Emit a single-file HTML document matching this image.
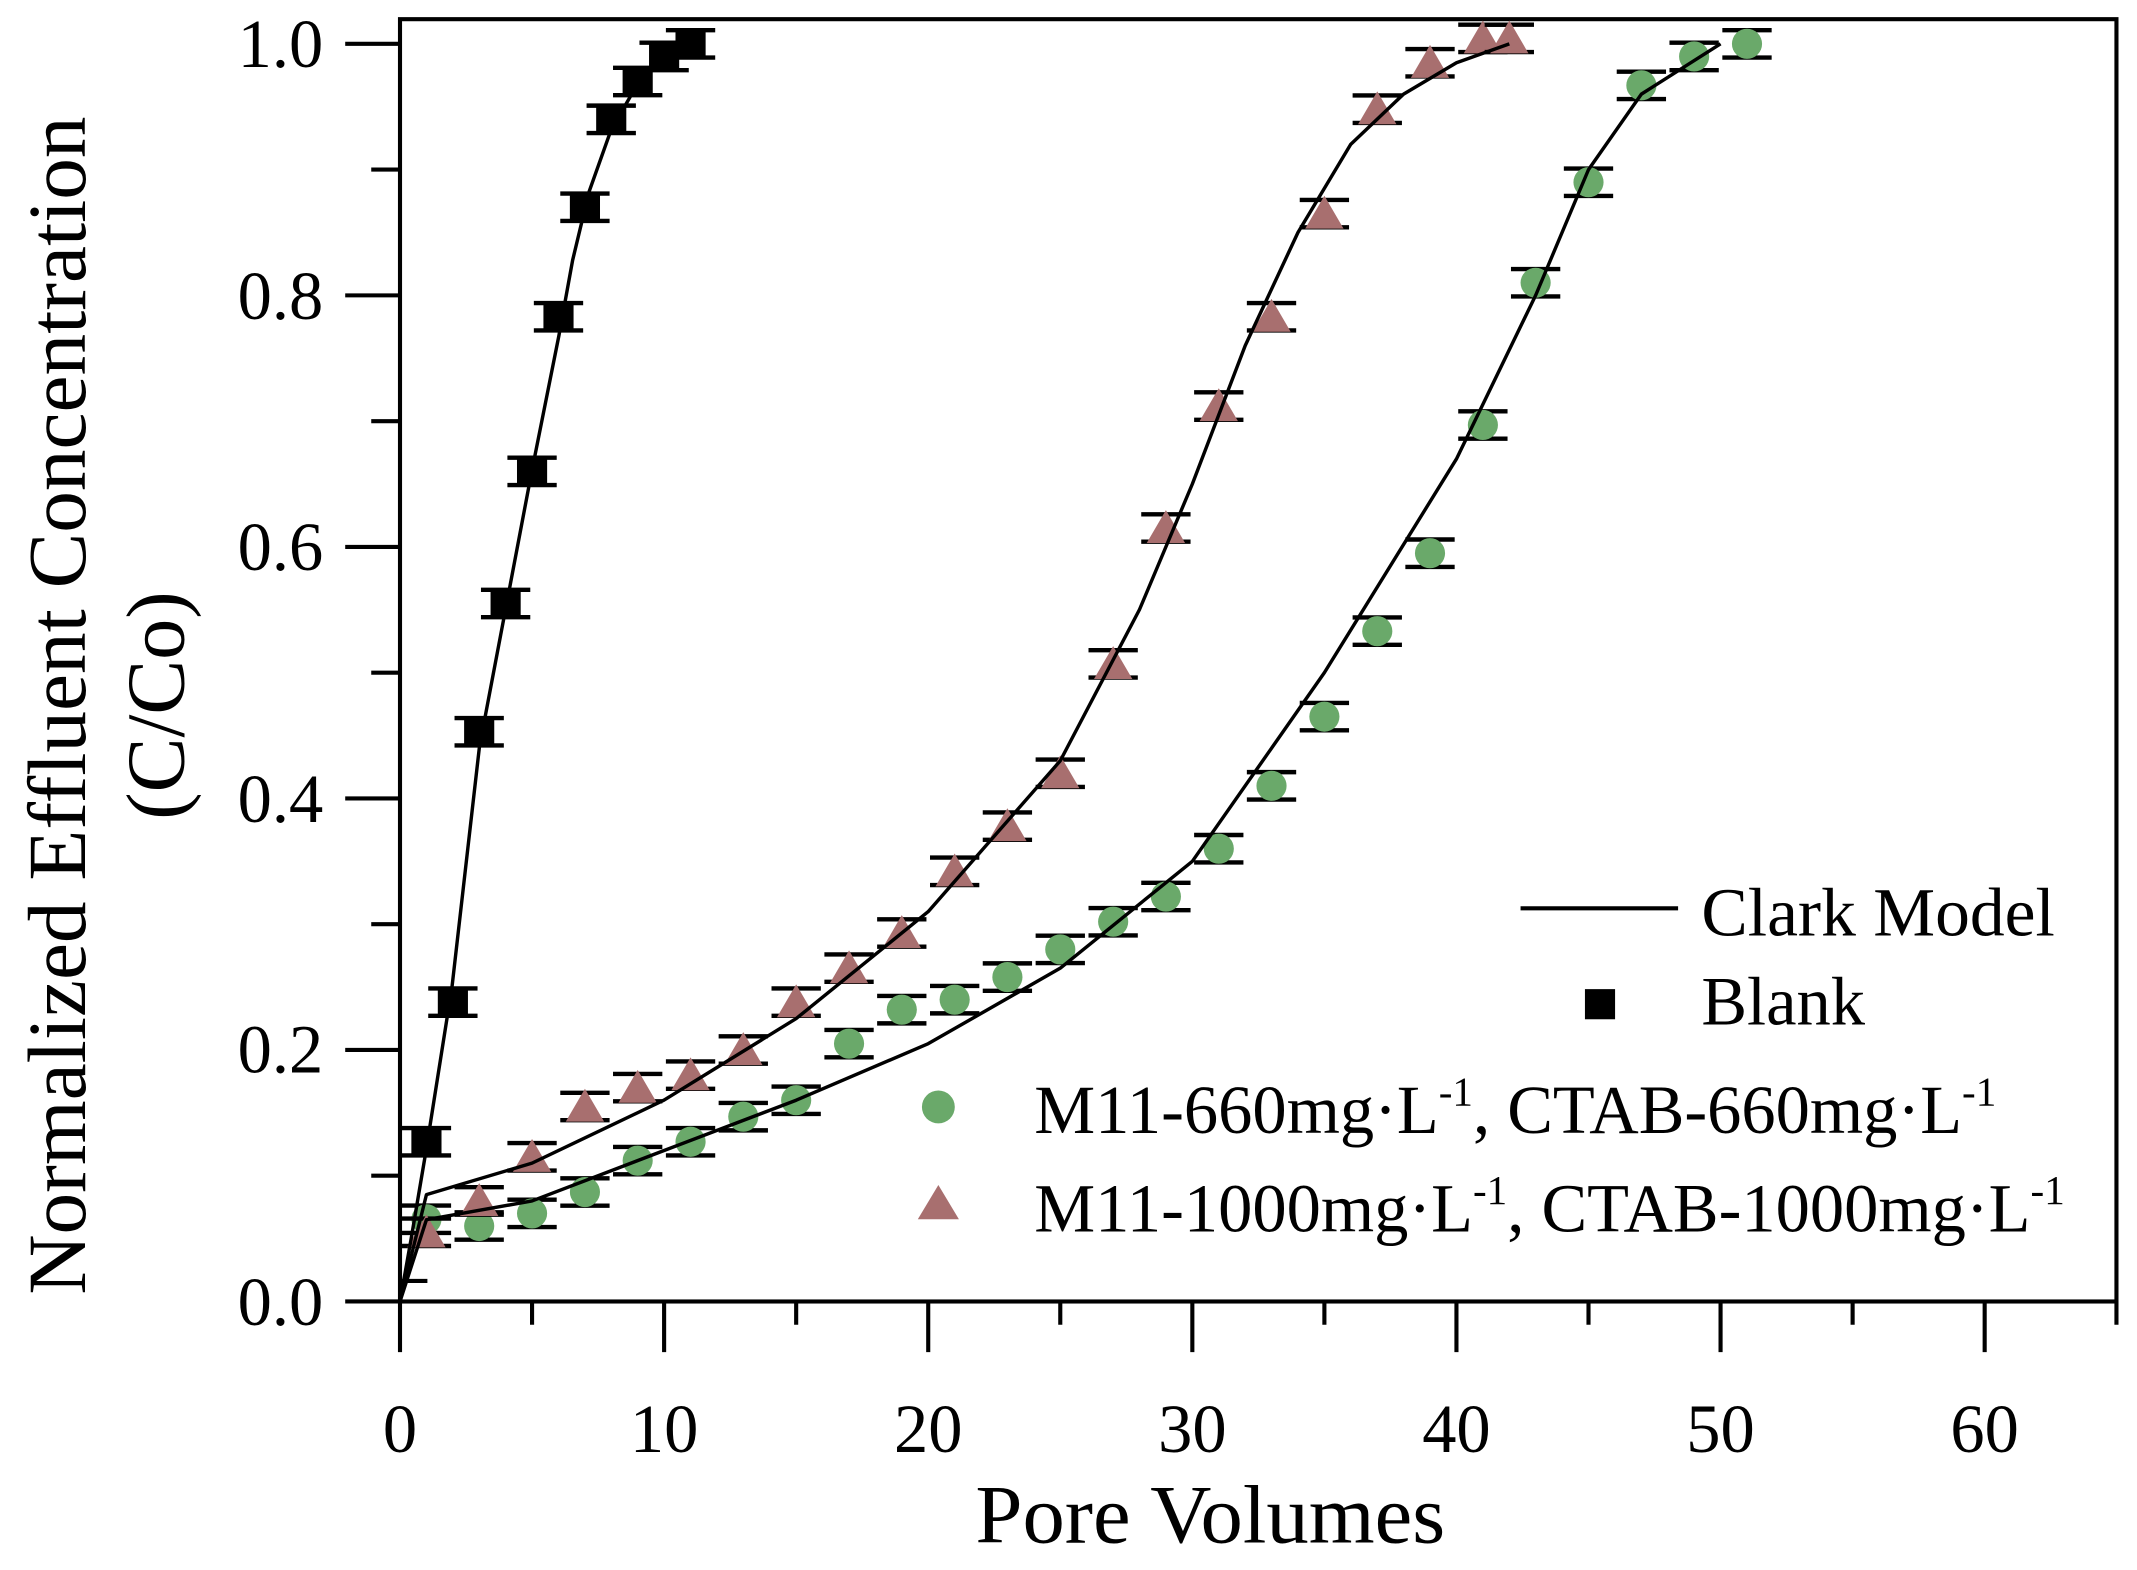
<!DOCTYPE html>
<html><head><meta charset="utf-8"><style>html,body{margin:0;padding:0;background:#fff}svg{display:block}</style></head>
<body>
<svg width="2137" height="1570" viewBox="0 0 1560 1146" preserveAspectRatio="none" xmlns="http://www.w3.org/2000/svg" font-family="'Liberation Serif', serif">
<defs>
<g id="eb"><path d="M-18,-10H18M-18,10H18M0,-10V10" stroke="#000" stroke-width="3.2" fill="none"/></g>
<g id="sq"><use href="#eb"/><rect x="-11" y="-11" width="22" height="22" fill="#000"/></g>
<g id="ci"><use href="#eb"/><circle r="11" fill="#6aa96a"/></g>
<g id="tr"><use href="#eb"/><path d="M0,-13L14,11H-14Z" fill="#a86f6f"/></g>
</defs>
<rect x="292" y="14" width="1253" height="936" fill="none" stroke="#000" stroke-width="3"/>
<g stroke="#000" stroke-width="3">
<path d="M292,950V987M484.8,950V987M677.6,950V987M870.4,950V987M1063.2,950V987M1256,950V987M1448.8,950V987"/>
<path d="M388.4,950V967M581.2,950V967M774,950V967M966.8,950V967M1159.6,950V967M1352.4,950V967M1545,950V967"/>
<path d="M292,950H252M292,766.4H252M292,582.8H252M292,399.2H252M292,215.6H252M292,32H252"/>
<path d="M292,858.2H271M292,674.6H271M292,491H271M292,307.4H271M292,123.8H271"/>
</g>
<g font-size="50" text-anchor="end">
<text x="236" y="967">0.0</text><text x="236" y="783">0.2</text><text x="236" y="600">0.4</text>
<text x="236" y="416">0.6</text><text x="236" y="233">0.8</text><text x="236" y="49">1.0</text>
</g>
<g font-size="50" text-anchor="middle">
<text x="292" y="1060">0</text><text x="484.8" y="1060">10</text><text x="677.6" y="1060">20</text>
<text x="870.4" y="1060">30</text><text x="1063.2" y="1060">40</text><text x="1256" y="1060">50</text><text x="1448.8" y="1060">60</text>
</g>
<text x="712" y="1126" font-size="60" textLength="343" lengthAdjust="spacingAndGlyphs">Pore Volumes</text>
<text transform="translate(62,515) rotate(-90)" font-size="60" text-anchor="middle" textLength="860" lengthAdjust="spacingAndGlyphs">Normalized Effluent Concentration</text>
<text transform="translate(134,515) rotate(-90)" font-size="60" text-anchor="middle">(C/Co)</text>

<g>
<use href="#ci" x="311.3" y="890"/><use href="#ci" x="349.8" y="894.9"/><use href="#ci" x="388.4" y="885.7"/><use href="#ci" x="427" y="870.1"/><use href="#ci" x="465.5" y="847.2"/><use href="#ci" x="504.1" y="833.4"/><use href="#ci" x="542.6" y="815.1"/><use href="#ci" x="581.2" y="803.1"/><use href="#ci" x="619.8" y="761.8"/><use href="#ci" x="658.3" y="737"/><use href="#ci" x="696.9" y="729.7"/><use href="#ci" x="735.4" y="713.2"/><use href="#ci" x="774" y="693"/><use href="#ci" x="812.6" y="672.8"/><use href="#ci" x="851.1" y="654.4"/><use href="#ci" x="889.7" y="619.5"/><use href="#ci" x="928.2" y="573.6"/><use href="#ci" x="966.8" y="523.1"/><use href="#ci" x="1005.4" y="460.7"/><use href="#ci" x="1043.9" y="403.8"/><use href="#ci" x="1082.5" y="310.2"/><use href="#ci" x="1121" y="206.4"/><use href="#ci" x="1159.6" y="133"/><use href="#ci" x="1198.2" y="62.3"/><use href="#ci" x="1236.7" y="41.2"/><use href="#ci" x="1275.3" y="32"/>
</g>
<g>
<use href="#tr" x="311.3" y="899.5"/><use href="#tr" x="349.8" y="876.6"/><use href="#tr" x="388.4" y="844.4"/><use href="#tr" x="427" y="807.7"/><use href="#tr" x="465.5" y="793.9"/><use href="#tr" x="504.1" y="784.8"/><use href="#tr" x="542.6" y="766.4"/><use href="#tr" x="581.2" y="731.5"/><use href="#tr" x="619.8" y="706.7"/><use href="#tr" x="658.3" y="681"/><use href="#tr" x="696.9" y="636"/><use href="#tr" x="735.4" y="603"/><use href="#tr" x="774" y="564.4"/><use href="#tr" x="812.6" y="484.6"/><use href="#tr" x="851.1" y="385.4"/><use href="#tr" x="889.7" y="296.4"/><use href="#tr" x="928.2" y="231.2"/><use href="#tr" x="966.8" y="155.9"/><use href="#tr" x="1005.4" y="79.7"/><use href="#tr" x="1043.9" y="45.8"/><use href="#tr" x="1082.5" y="28"/><use href="#tr" x="1101.8" y="28"/>
</g>
<g>
<use href="#sq" x="311.3" y="833.4"/><use href="#sq" x="330.6" y="731.5"/><use href="#sq" x="349.8" y="534.1"/><use href="#sq" x="369.1" y="440.5"/><use href="#sq" x="388.4" y="344.1"/><use href="#sq" x="407.7" y="231.2"/><use href="#sq" x="427" y="151.3"/><use href="#sq" x="446.2" y="87.1"/><use href="#sq" x="465.5" y="59.5"/><use href="#sq" x="484.8" y="41.2"/><use href="#sq" x="504.1" y="32"/>
</g>
<path d="M292,935H312" stroke="#000" stroke-width="3"/>
<g fill="none" stroke="#000" stroke-width="2.5" stroke-linejoin="round">
<polyline points="292,950 300,905 311,840 330,720 350,545 369,445 388,345 408,245 418,190 430,140 446,95 465,62 485,42 504,32"/>
<polyline points="292,950 311.3,872 388.4,849 484.8,803 581.2,743.5 677.6,665.4 774,555.3 831.8,445 870.4,353.3 909,252.3 947.5,169.7 986,105.4 1024.6,68.7 1063.2,45.8 1101.8,32"/>
<polyline points="292,950 311.3,890.3 388.4,876.6 484.8,839.8 581.2,803.1 677.6,761.8 774,706.7 870.4,628.7 966.8,491 1063.2,335 1121,215.6 1159.6,123.8 1198.2,68.7 1256,32"/>
</g>
<path d="M1110,663H1225" stroke="#000" stroke-width="3"/>
<rect x="1157" y="722" width="22" height="22" fill="#000"/>
<circle cx="685" cy="808" r="12" fill="#6aa96a"/>
<path d="M685,865L700,890H670Z" fill="#a86f6f"/>
<g font-size="50">
<text x="1242" y="683" textLength="258" lengthAdjust="spacingAndGlyphs">Clark Model</text>
<text x="1242" y="748">Blank</text>
<text x="755" y="827">M11-660mg·L<tspan font-size="30" dy="-20">-1</tspan><tspan dy="20">, CTAB-660mg·L</tspan><tspan font-size="30" dy="-20">-1</tspan></text>
<text x="755" y="899">M11-1000mg·L<tspan font-size="30" dy="-20">-1</tspan><tspan dy="20">, CTAB-1000mg·L</tspan><tspan font-size="30" dy="-20">-1</tspan></text>
</g>
</svg>
</body></html>
